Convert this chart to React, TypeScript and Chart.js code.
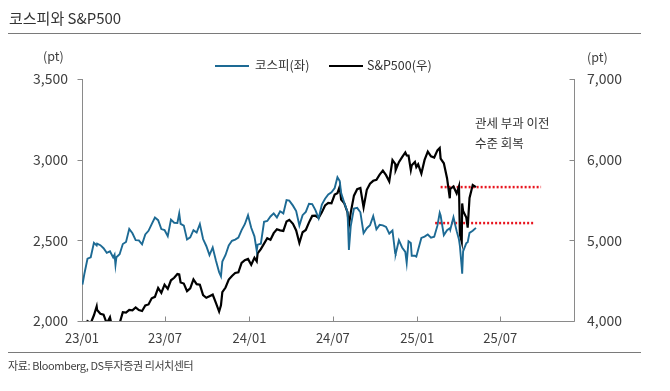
import React, { useEffect, useRef } from 'react';
import { Chart, registerables } from 'chart.js';

Chart.register(...registerables);

// ---------- DATA ----------
const dates = [
  '2023-01-02','2023-01-06','2023-01-13','2023-01-20','2023-01-27','2023-02-02','2023-02-03','2023-02-10','2023-02-17','2023-02-24',
  '2023-03-03','2023-03-10','2023-03-13','2023-03-15','2023-03-17','2023-03-24','2023-03-31','2023-04-07','2023-04-14','2023-04-21',
  '2023-04-28','2023-05-05','2023-05-12','2023-05-19','2023-05-26','2023-06-02','2023-06-09','2023-06-16','2023-06-23','2023-06-30',
  '2023-07-07','2023-07-14','2023-07-21','2023-07-28','2023-08-01','2023-08-04','2023-08-11','2023-08-18','2023-08-25','2023-09-01',
  '2023-09-08','2023-09-15','2023-09-22','2023-09-29','2023-10-06','2023-10-13','2023-10-20','2023-10-27','2023-10-31','2023-11-03',
  '2023-11-10','2023-11-17','2023-11-24','2023-12-01','2023-12-08','2023-12-15','2023-12-22','2023-12-29',
  '2024-01-05','2024-01-12','2024-01-17','2024-01-19','2024-01-26','2024-02-02','2024-02-09','2024-02-16','2024-02-23','2024-03-01',
  '2024-03-08','2024-03-15','2024-03-22','2024-03-28','2024-04-05','2024-04-12','2024-04-19','2024-04-26','2024-05-03','2024-05-10',
  '2024-05-17','2024-05-24','2024-05-31','2024-06-07','2024-06-14','2024-06-21','2024-06-28','2024-07-05','2024-07-11','2024-07-16',
  '2024-07-19','2024-07-26','2024-08-02','2024-08-05','2024-08-09','2024-08-16','2024-08-23','2024-08-30','2024-09-06','2024-09-13',
  '2024-09-20','2024-09-27','2024-10-04','2024-10-11','2024-10-18','2024-10-25','2024-11-01','2024-11-08','2024-11-14','2024-11-15',
  '2024-11-22','2024-11-29','2024-12-06','2024-12-09','2024-12-13','2024-12-18','2024-12-20','2024-12-27','2024-12-30',
  '2025-01-03','2025-01-10','2025-01-17','2025-01-24','2025-01-31','2025-02-07','2025-02-14','2025-02-19','2025-02-21','2025-02-28',
  '2025-03-07','2025-03-13','2025-03-14','2025-03-21','2025-03-28','2025-04-02','2025-04-04','2025-04-08','2025-04-09','2025-04-11',
  '2025-04-18','2025-04-21','2025-04-25','2025-05-02','2025-05-09',
];

const kospi = [
  2225,2290,2386,2395,2484,2468,2480,2470,2451,2423,
  2432,2394,2411,2348,2395,2414,2477,2490,2571,2544,
  2501,2500,2475,2537,2559,2601,2641,2625,2570,2564,
  2526,2628,2609,2608,2667,2602,2591,2505,2519,2563,
  2548,2601,2508,2465,2408,2456,2375,2302,2277,2368,
  2409,2469,2497,2505,2517,2563,2600,2655,
  2578,2525,2436,2473,2479,2615,2620,2648,2667,2642,
  2680,2667,2749,2746,2715,2681,2592,2656,2676,2727,
  2725,2687,2636,2722,2758,2784,2798,2824,2891,2867,
  2795,2731,2676,2441,2588,2697,2701,2674,2544,2575,
  2593,2650,2569,2596,2593,2583,2542,2561,2418,2416,
  2501,2456,2428,2360,2494,2484,2404,2404,2399,
  2441,2515,2523,2536,2517,2522,2591,2671,2654,2532,
  2563,2575,2566,2643,2557,2505,2465,2334,2293,2432,
  2483,2488,2546,2559,2577,
];

const sp500 = [
  3825,3895,3999,3973,4071,4180,4136,4090,4079,3970,
  4046,3862,3855,3892,3917,3971,4109,4105,4138,4133,
  4169,4136,4124,4192,4205,4282,4299,4410,4348,4450,
  4399,4505,4536,4582,4577,4478,4464,4370,4406,4516,
  4457,4450,4320,4288,4308,4328,4224,4117,4194,4358,
  4415,4514,4559,4595,4604,4719,4755,4770,
  4697,4784,4739,4840,4891,4959,5027,5006,5089,5137,
  5124,5117,5234,5254,5204,5123,4967,5100,5128,5223,
  5303,5305,5278,5347,5432,5465,5460,5567,5585,5667,
  5505,5459,5346,5186,5344,5554,5634,5648,5408,5626,
  5703,5738,5751,5815,5864,5808,5729,5996,5949,5871,
  5969,6032,6090,6053,6051,5872,5931,5971,5907,
  5942,5827,5997,6101,6041,6026,6115,6144,6013,5955,
  5770,5522,5639,5668,5581,5671,5074,4982,5457,5363,
  5282,5158,5525,5686,5660,
];

const xStartDate = '2023-01-01';
const xEndDate = '2025-12-11';
const xTickDates = ['2023-01-01', '2023-07-01', '2024-01-01', '2024-07-01', '2025-01-01', '2025-07-01'];
const xTickLabels = ['23/01', '23/07', '24/01', '24/07', '25/01', '25/07'];
const kospiTicks = [2000, 2500, 3000, 3500];
const spTicks = [4000, 5000, 6000, 7000];

const spRefLevel = 5660;
const spRefDates = ['2025-02-21', '2025-09-28'];
const kospiRefLevel = 2607;
const kospiRefDates = ['2025-02-09', '2025-09-15'];

const seriesNames = ['코스피(좌)', 'S&P500(우)'];
const titleText = '코스피와 S&P500';
const sourceText = '자료: Bloomberg, DS투자증권 리서치센터';
const noteLines = ['관세 부과 이전', '수준 회복'];
const unitText = '(pt)';

// ---------- STYLE ----------
const BLUE = '#1d6a94';
const BLACK = '#000000';
const RED = '#e8141e';
const AXIS = '#8a8a8a';
const FONT = "'Noto Sans CJK KR', 'Noto Sans', sans-serif";

const DAY0 = Date.parse(xStartDate);
const toDay = (s: string) => (Date.parse(s) - DAY0) / 86400000;
const fmt = (v: number) => v.toLocaleString('en-US');

const axisPlugin = {
  id: 'axisPlugin',
  beforeDatasetsDraw(chart: any) {
    const { ctx, chartArea } = chart;
    const { left, right, top, bottom } = chartArea;
    const L = Math.round(left) + 0.5;
    const R = Math.round(right) - 0.5;
    const B = Math.round(bottom) + 0.5;
    ctx.save();
    ctx.strokeStyle = AXIS;
    ctx.lineWidth = 1;
    ctx.beginPath();
    ctx.moveTo(L, top);
    ctx.lineTo(L, B);
    ctx.lineTo(R, B);
    ctx.moveTo(R, top);
    ctx.lineTo(R, B);
    const yL = chart.scales.yL;
    const yR = chart.scales.yR;
    const x = chart.scales.x;
    kospiTicks.forEach((v) => {
      const y = Math.round(yL.getPixelForValue(v)) + 0.5;
      ctx.moveTo(L - 5, y);
      ctx.lineTo(L, y);
    });
    spTicks.forEach((v) => {
      const y = Math.round(yR.getPixelForValue(v)) + 0.5;
      ctx.moveTo(R - 5, y);
      ctx.lineTo(R, y);
    });
    xTickDates.forEach((d) => {
      const px = Math.round(x.getPixelForValue(toDay(d))) + 0.5;
      ctx.moveTo(px, B - 5);
      ctx.lineTo(px, B);
    });
    ctx.stroke();
    ctx.restore();
  },
};

type TProps = { x: number; cy: number; size: number; children: any; color?: string; ls?: number };
const Txt = ({ x, cy, size, children, color = '#333', ls = 0 }: TProps) => (
  <div
    style={{
      position: 'absolute',
      left: x,
      top: cy - size * 0.55,
      fontSize: size,
      lineHeight: `${size}px`,
      fontFamily: FONT,
      color,
      whiteSpace: 'nowrap',
      letterSpacing: ls,
    }}
  >
    {children}
  </div>
);

export default function App() {
  const ref = useRef<HTMLCanvasElement | null>(null);

  useEffect(() => {
    if (!ref.current) return;
    const xTickVals = xTickDates.map(toDay);
    const chart = new Chart(ref.current, {
      type: 'line',
      data: {
        datasets: [
          {
            label: seriesNames[0],
            data: dates.map((d, i) => ({ x: toDay(d), y: kospi[i] })),
            yAxisID: 'yL',
            borderColor: BLUE,
            borderWidth: 1.9,
            pointRadius: 0,
            tension: 0,
          },
          {
            label: seriesNames[1],
            data: dates.map((d, i) => ({ x: toDay(d), y: sp500[i] })),
            yAxisID: 'yR',
            borderColor: BLACK,
            borderWidth: 2.2,
            pointRadius: 0,
            tension: 0,
          },
          {
            label: 'sp-ref',
            data: spRefDates.map((d) => ({ x: toDay(d), y: spRefLevel })),
            yAxisID: 'yR',
            borderColor: RED,
            borderWidth: 2.5,
            borderDash: [2, 2],
            pointRadius: 0,
          },
          {
            label: 'kospi-ref',
            data: kospiRefDates.map((d) => ({ x: toDay(d), y: kospiRefLevel })),
            yAxisID: 'yL',
            borderColor: RED,
            borderWidth: 2.5,
            borderDash: [2, 2],
            pointRadius: 0,
          },
        ],
      },
      options: {
        animation: false,
        responsive: false,
        layout: { padding: { top: 79, left: 0, right: 0, bottom: 0 } },
        plugins: {
          legend: { display: false },
          tooltip: { enabled: false },
        },
        scales: {
          x: {
            type: 'linear',
            min: 0,
            max: toDay(xEndDate),
            grid: { display: false, drawTicks: false },
            border: { display: false },
            ticks: {
              autoSkip: false,
              maxRotation: 0,
              padding: 9,
              color: '#404040',
              font: { family: FONT, size: 13 },
              callback: (v: any) => {
                const i = xTickVals.indexOf(Number(v));
                return i >= 0 ? xTickLabels[i] : '';
              },
            },
            afterBuildTicks: (s: any) => {
              s.ticks = xTickVals.map((v) => ({ value: v }));
            },
            afterFit: (s: any) => {
              s.height = 70;
            },
          },
          yL: {
            type: 'linear',
            position: 'left',
            min: kospiTicks[0],
            max: kospiTicks[kospiTicks.length - 1],
            grid: { display: false, drawTicks: false },
            border: { display: false },
            ticks: {
              padding: 14,
              color: '#404040',
              font: { family: FONT, size: 14 },
              callback: (v: any) => fmt(Number(v)),
            },
            afterBuildTicks: (s: any) => {
              s.ticks = kospiTicks.map((v) => ({ value: v }));
            },
            afterFit: (s: any) => {
              s.width = 82;
            },
          },
          yR: {
            type: 'linear',
            position: 'right',
            min: spTicks[0],
            max: spTicks[spTicks.length - 1],
            grid: { display: false, drawTicks: false },
            border: { display: false },
            ticks: {
              padding: 12,
              color: '#404040',
              font: { family: FONT, size: 14 },
              callback: (v: any) => fmt(Number(v)),
            },
            afterBuildTicks: (s: any) => {
              s.ticks = spTicks.map((v) => ({ value: v }));
            },
            afterFit: (s: any) => {
              s.width = 95;
            },
          },
        },
      } as any,
      plugins: [axisPlugin],
    });
    return () => chart.destroy();
  }, []);

  return (
    <div style={{ position: 'fixed', left: 0, top: 0, width: 670, height: 391, background: '#fff', overflow: 'hidden' }}>
      <canvas ref={ref} width={670} height={391} style={{ position: 'absolute', left: 0, top: 0, width: 670, height: 391 }} />
      <Txt x={9} cy={18.5} size={15} color="#333">{titleText}</Txt>
      <div style={{ position: 'absolute', left: 8, top: 32.5, width: 633, height: 0, borderTop: '1.5px solid #7a7a7a' }} />
      <div style={{ position: 'absolute', left: 215, top: 65, width: 34, height: 2, background: BLUE }} />
      <Txt x={255} cy={66} size={12.5} color="#333">{seriesNames[0]}</Txt>
      <div style={{ position: 'absolute', left: 329, top: 65, width: 34, height: 2, background: BLACK }} />
      <Txt x={367} cy={66} size={12.5} color="#333">{seriesNames[1]}</Txt>
      <Txt x={43} cy={57} size={12.5} color="#404040">{unitText}</Txt>
      <Txt x={587} cy={58} size={12.5} color="#404040">{unitText}</Txt>
      <Txt x={475} cy={124} size={12.5} color="#333">{noteLines[0]}</Txt>
      <Txt x={475} cy={144} size={12.5} color="#333">{noteLines[1]}</Txt>
      <div style={{ position: 'absolute', left: 8, top: 352, width: 633, height: 0, borderTop: '1px solid #7a7a7a' }} />
      <Txt x={8} cy={366} size={11} color="#404040" ls={-0.4}>{sourceText}</Txt>
    </div>
  );
}
